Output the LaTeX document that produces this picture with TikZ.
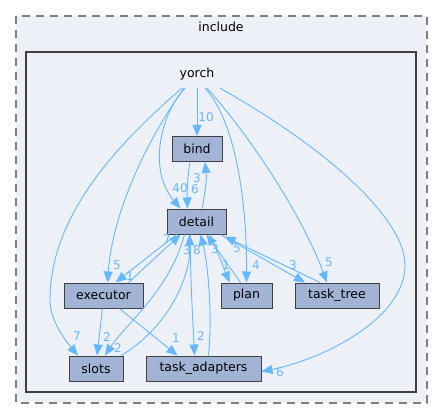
\documentclass[tikz,border=0pt]{standalone}
\usepackage{fontspec}
\setmainfont{DejaVu Sans}
\usetikzlibrary{arrows.meta}
\definecolor{edgec}{HTML}{63B8FF}
\definecolor{nodef}{HTML}{A2B4D6}
\definecolor{clusf}{HTML}{EDF0F7}
\definecolor{g25}{HTML}{404040}
\definecolor{g50}{HTML}{7F7F7F}
\tikzset{
  dirbox/.style={draw=g25, fill=nodef, line width=1pt, inner sep=0pt, minimum height=25pt, font=\fontsize{12.5}{14}\selectfont},
  dep/.style={draw=edgec, line width=0.9pt, -{Triangle[length=11pt,width=9pt]}},
  lab/.style={text=edgec, font=\fontsize{12}{14}\selectfont, inner sep=0pt},
}
\begin{document}
\begin{tikzpicture}[x=1pt,y=-1pt]
\useasboundingbox (0,0) rectangle (443,419);
% clusters
\draw[g50, fill=clusf, dash pattern=on 8pt off 6pt, line width=1.3pt] (16,16) rectangle (427,403);
\node[font=\fontsize{12.5}{14}\selectfont, inner sep=0pt] (inc) at (221,27) {include};
\draw[g25, fill=clusf, line width=2.3pt] (26,52) rectangle (416,392);
\node[font=\fontsize{12.5}{14}\selectfont, minimum width=34pt, minimum height=28pt, inner sep=0pt] (yorch) at (197,74) {yorch};
% nodes
\node[dirbox, minimum width=50pt] (bind) at (197,149) {bind};
\node[dirbox, minimum width=59pt] (detail) at (196.5,221.5) {detail};
\node[dirbox, minimum width=79pt] (executor) at (103.5,295.5) {executor};
\node[dirbox, minimum width=51pt] (plan) at (246.5,295.5) {plan};
\node[dirbox, minimum width=84pt] (tasktree) at (337,295.5) {task\_tree};
\node[dirbox, minimum width=54pt] (slots) at (96,368.5) {slots};
\node[dirbox, minimum width=115pt] (taskad) at (203.5,368.5) {task\_adapters};
% edges from yorch
\draw[dep] (yorch.south) -- (bind.north);
\node[lab] at (206,117) {10};
\draw[dep] ([xshift=-12pt]yorch.south) .. controls (160,115) and (148,170) .. ([xshift=-16pt]detail.north);
\node[lab] at (180,188) {40};
\draw[dep] ([xshift=-13pt]yorch.south) .. controls (140,150) and (112,220) .. ([xshift=4pt]executor.north);
\node[lab] at (117,265) {5};
\draw[dep] ([xshift=-15pt]yorch.south) .. controls (110,150) and (50,220) .. (50,300) .. controls (50,320) and (65,340) .. ([xshift=-18pt]slots.north);
\node[lab] at (77,336) {7};
\draw[dep] ([xshift=8pt]yorch.south) .. controls (235,120) and (247,200) .. (plan.north);
\node[lab] at (256,265) {4};
\draw[dep] ([xshift=10pt]yorch.south) .. controls (245,130) and (300,210) .. ([xshift=-10pt]tasktree.north);
\node[lab] at (329,262) {5};
\draw[dep] ([xshift=23pt]yorch.south) .. controls (330,150) and (405,220) .. (405,265) .. controls (405,320) and (320,360) .. ([yshift=-3pt]taskad.east);
\node[lab] at (280,372) {6};
% bind <-> detail
\draw[dep] ([xshift=-7pt]bind.south) .. controls (187,180) and (187,195) .. ([xshift=-9pt]detail.north);
\node[lab] at (195,189) {6};
\draw[dep] ([xshift=6pt]detail.north) .. controls (205,190) and (207,180) .. ([xshift=8pt]bind.south);
\node[lab] at (197,178) {3};
% executor <-> detail
\draw[dep] ([xshift=25pt]executor.north) -- ([xshift=-16pt]detail.south);
\node[lab] at (167,239) {7};
\draw[dep] ([xshift=-20pt]detail.south) -- ([xshift=12pt]executor.north);
\node[lab] at (130,276) {1};
% executor -> slots, task_adapters
\draw[dep] ([xshift=-1pt]executor.south) -- ([xshift=1pt]slots.north);
\node[lab] at (107,337) {2};
\draw[dep] ([xshift=16pt]executor.south) -- ([xshift=-26pt]taskad.north);
\node[lab] at (176,338) {1};
% slots <-> detail
\draw[dep] ([xshift=25pt]slots.north) .. controls (165,330) and (191,280) .. ([xshift=-7pt]detail.south);
\node[lab] at (187,250) {3};
\draw[dep] ([xshift=-12pt]detail.south) .. controls (170,290) and (125,325) .. ([xshift=9pt]slots.north);
\node[lab] at (118,348) {2};
% task_adapters <-> detail
\draw[dep] ([xshift=-6pt]detail.south) .. controls (190,280) and (193,320) .. ([xshift=-9pt]taskad.north);
\node[lab] at (201,336) {2};
\draw[dep] ([xshift=5pt]taskad.north) .. controls (213,310) and (207,260) .. ([xshift=4pt]detail.south);
\node[lab] at (197,250) {8};
% plan <-> detail
\draw[dep] ([xshift=-6pt]plan.north) -- ([xshift=10pt]detail.south);
\node[lab] at (215,249) {3};
\draw[dep] ([xshift=14pt]detail.south) -- ([xshift=-17pt]plan.north);
\node[lab] at (226,265) {1};
% task_tree <-> detail
\draw[dep] ([xshift=-17pt]tasktree.north) -- ([xshift=-2pt,yshift=-2pt]detail.south east);
\node[lab] at (237,248) {5};
\draw[dep] ([xshift=24pt]detail.south) -- ([xshift=-32pt]tasktree.north);
\node[lab] at (293,265) {3};
\end{tikzpicture}
\end{document}
